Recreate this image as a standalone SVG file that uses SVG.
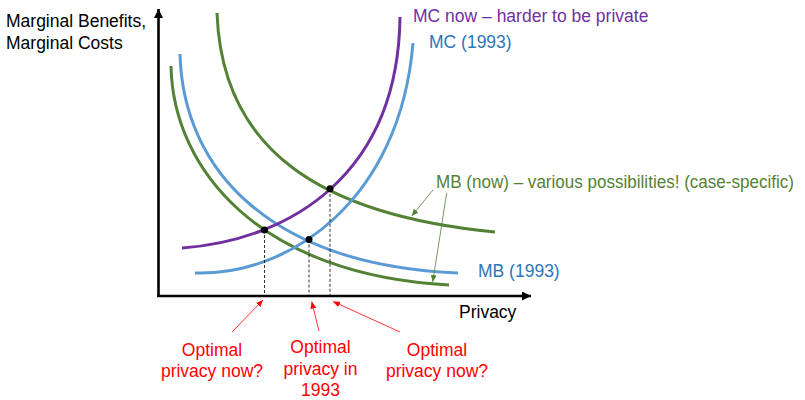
<svg xmlns="http://www.w3.org/2000/svg" width="805" height="400" viewBox="0 0 805 400">
<style>
text{font-family:"Liberation Sans",Arial,sans-serif;font-size:17.5px}
.curve{fill:none;stroke-width:3;stroke-linecap:butt}
.green{stroke:#548235}
.blue{stroke:#5B9BD5}
.purple{stroke:#7030A0}
.axis{stroke:#000;stroke-width:2.6;fill:none}
.dash{stroke:#000;stroke-width:0.8;stroke-dasharray:3 2;fill:none}
.red-arrow{stroke:#FF0000;stroke-width:0.8;fill:none}
.green-arrow{stroke:#548235;stroke-width:0.8;fill:none}
.red-t{fill:#FF0000;text-anchor:middle}
</style>
<defs>
<marker id="axhead" markerUnits="userSpaceOnUse" markerWidth="9" markerHeight="9" refX="9" refY="4.5" orient="auto"><path d="M0,0 L9,4.5 L0,9 z" fill="#000"/></marker>
<marker id="redhead" markerUnits="userSpaceOnUse" markerWidth="7" markerHeight="6" refX="7" refY="3" orient="auto"><path d="M0,0 L7,3 L0,6 z" fill="#FF0000"/></marker>
<marker id="greenhead" markerUnits="userSpaceOnUse" markerWidth="7" markerHeight="6" refX="7" refY="3" orient="auto"><path d="M0,0 L7,3 L0,6 z" fill="#548235"/></marker>
</defs>
<rect width="805" height="400" fill="#fff"/>

<g id="axes">
<path class="axis" d="M158.5,297 L158.5,9" marker-end="url(#axhead)"/>
<path class="axis" d="M157,296 L531,296" marker-end="url(#axhead)"/>
<text x="6" y="27">Marginal Benefits,</text>
<text x="6" y="49">Marginal Costs</text>
<text x="459" y="318">Privacy</text>
</g>

<g id="mb-now-low">
<path class="curve green" d="M171,66 C173,170 260,275 449,285"/>
</g>
<g id="mb-now-high">
<path class="curve green" d="M217,13 C222,150 320,215 495,232"/>
<text x="436" y="188" fill="#548235" textLength="358" lengthAdjust="spacingAndGlyphs">MB (now) – various possibilities! (case-specific)</text>
</g>
<g id="mb-1993">
<path class="curve blue" d="M180,54 C183,170 270,265 458,273"/>
<text x="478" y="277" fill="#2E75B6">MB (1993)</text>
</g>
<g id="mc-1993">
<path class="curve blue" d="M195,273 C290,276 400,200 413,43"/>
<text x="429" y="48" fill="#2E75B6">MC (1993)</text>
</g>
<g id="mc-now">
<path class="curve purple" d="M182,248 C290,240 398,175 400,17"/>
<text x="413" y="22" fill="#7030A0">MC now – harder to be private</text>
</g>

<g id="optima">
<path class="dash" d="M264.5,230 V296 M309,239.5 V296 M330,188.8 V296"/>
<circle cx="264.5" cy="230" r="3.5" fill="#000"/>
<circle cx="309" cy="239.5" r="3.5" fill="#000"/>
<circle cx="330" cy="188.8" r="3.5" fill="#000"/>
</g>

<g id="label-now-left">
<text class="red-t" x="212" y="355.5">Optimal</text>
<text class="red-t" x="212" y="377">privacy now?</text>
</g>
<g id="label-1993">
<text class="red-t" x="320.5" y="352.5">Optimal</text>
<text class="red-t" x="320.5" y="374.5">privacy in</text>
<text class="red-t" x="320.5" y="396">1993</text>
</g>
<g id="label-now-right">
<text class="red-t" x="437" y="355.5">Optimal</text>
<text class="red-t" x="437" y="377">privacy now?</text>
</g>

<g id="connectors">
<path class="red-arrow" d="M232,332 L263,300" marker-end="url(#redhead)"/>
<path class="red-arrow" d="M319,331 L311.7,301.5" marker-end="url(#redhead)"/>
<path class="red-arrow" d="M400,332 L333,301.5" marker-end="url(#redhead)"/>
<path class="green-arrow" d="M433,190 L411.7,216" marker-end="url(#greenhead)"/>
<path class="green-arrow" d="M446.7,193 L432.7,282" marker-end="url(#greenhead)"/>
</g>
</svg>
